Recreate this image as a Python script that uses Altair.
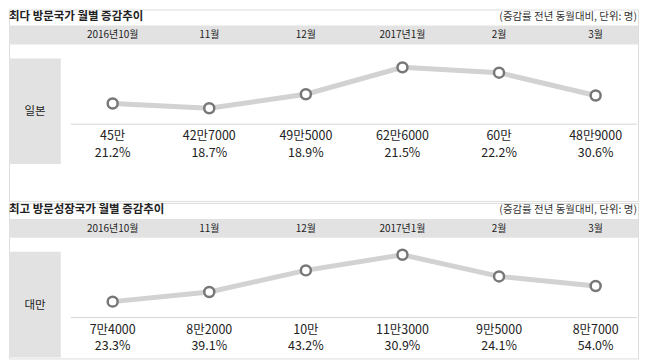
import altair as alt
import pandas as pd

months = ["2016년10월", "11월", "12월", "2017년1월", "2월", "3월"]
japan_vals = [450000, 427000, 495000, 626000, 600000, 489000]
japan_labels = ["45만", "42만7000", "49만5000", "62만6000", "60만", "48만9000"]
japan_pcts = ["21.2%", "18.7%", "18.9%", "21.5%", "22.2%", "30.6%"]
taiwan_vals = [74000, 82000, 100000, 113000, 95000, 87000]
taiwan_labels = ["7만4000", "8만2000", "10만", "11만3000", "9만5000", "8만7000"]
taiwan_pcts = ["23.3%", "39.1%", "43.2%", "30.9%", "24.1%", "54.0%"]
titles = ["최다 방문국가 월별 증감추이", "최고 방문성장국가 월별 증감추이"]
countries = ["일본", "대만"]
note = "(증감률 전년 동월대비, 단위: 명)"

FONT = "Noto Sans CJK KR"
BAND = "#e2e2e2"
W = 631


def panel(title, country, vals, labels, pcts, ydom, yrange, height):
    df = pd.DataFrame({"i": list(range(6)), "month": months, "v": vals,
                       "lab": labels, "pct": pcts})
    xs = alt.X("i:Q", scale=alt.Scale(domain=[0, 5], range=[104, 588.5]), axis=None)
    base = alt.Chart(df)
    ttl = alt.Chart(pd.DataFrame({"t": [title]})).mark_text(
        align="left", baseline="middle", font=FONT, fontSize=11.5, fontWeight="bold",
        color="#222").encode(x=alt.value(0), y=alt.value(7), text="t:N")
    nt = alt.Chart(pd.DataFrame({"t": [note]})).mark_text(
        align="right", baseline="middle", font=FONT, fontSize=10.5, color="#333").encode(
        x=alt.value(630), y=alt.value(7), text="t:N")
    band = alt.Chart(pd.DataFrame({"a": [0]})).mark_rect(color=BAND).encode(
        x=alt.value(0), x2=alt.value(W), y=alt.value(16), y2=alt.value(35))
    mlab = base.mark_text(baseline="middle", font=FONT, fontSize=10, color="#222").encode(
        x=xs, y=alt.value(26), text="month:N")
    box = alt.Chart(pd.DataFrame({"a": [0]})).mark_rect(color=BAND).encode(
        x=alt.value(0), x2=alt.value(52), y=alt.value(49), y2=alt.value(155))
    clab = alt.Chart(pd.DataFrame({"t": [country]})).mark_text(
        baseline="middle", font=FONT, fontSize=11.5, color="#222").encode(
        x=alt.value(26), y=alt.value(103), text="t:N")
    rule = alt.Chart(pd.DataFrame({"a": [0]})).mark_rule(color="#d6d6d6", strokeWidth=1).encode(
        x=alt.value(62), x2=alt.value(630), y=alt.value(115))
    ys = alt.Y("v:Q", scale=alt.Scale(domain=ydom, range=yrange), axis=None)
    line = base.mark_line(color="#d2d2d2", strokeWidth=5).encode(x=xs, y=ys)
    pts = base.mark_point(shape="circle", filled=False, fill="white", fillOpacity=1,
                          stroke="#777777", strokeWidth=2.5, size=100, opacity=1).encode(x=xs, y=ys)
    vlab = base.mark_text(baseline="middle", font=FONT, fontSize=12.5, color="#222").encode(
        x=xs, y=alt.value(127), text="lab:N")
    plab = base.mark_text(baseline="middle", font=FONT, fontSize=12.5, color="#222").encode(
        x=xs, y=alt.value(144), text="pct:N")
    return alt.layer(ttl, nt, band, mlab, box, clab, rule, line, pts, vlab, plab).properties(
        width=W, height=height)


p1 = panel(titles[0], countries[0], japan_vals, japan_labels, japan_pcts,
           [427000, 626000], [99, 58], 192)
p2 = panel(titles[1], countries[1], taiwan_vals, taiwan_labels, taiwan_pcts,
           [74000, 113000], [99, 52], 156)

chart = alt.vconcat(p1, p2, spacing=0).properties(padding=0).configure_view(
    stroke=None).configure(background="white")
chart.save("out.html", embed_options={"renderer": "svg", "actions": False})
